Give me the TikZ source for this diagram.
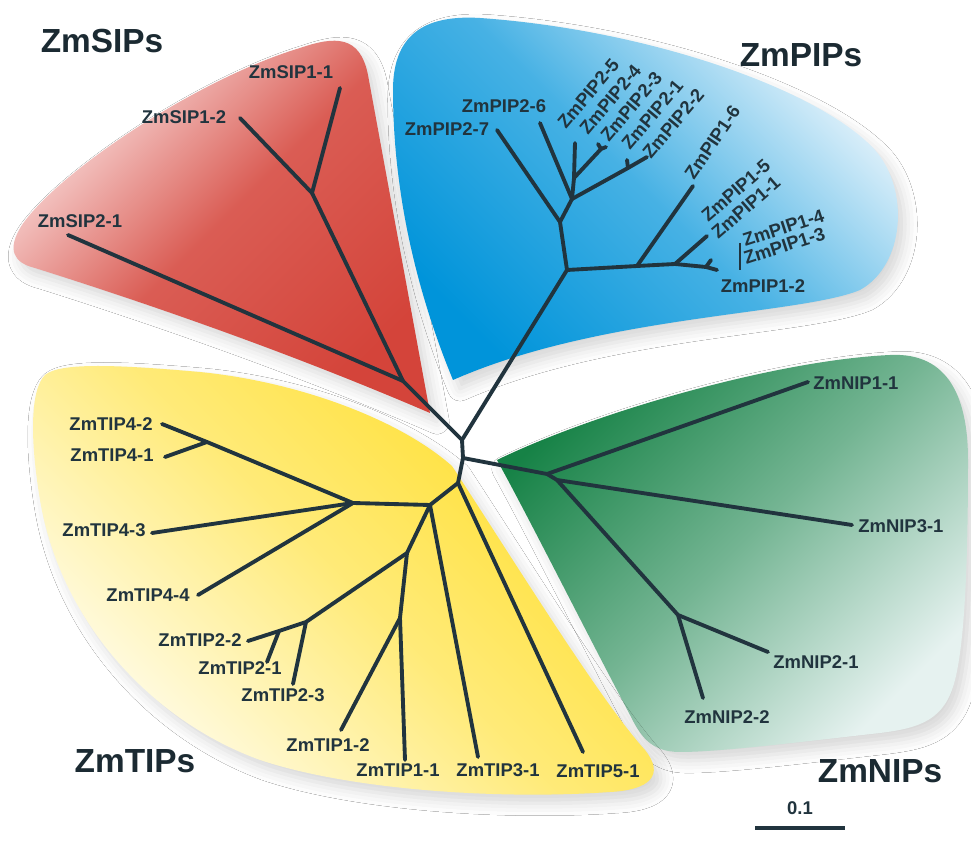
\documentclass[tikz,border=0pt]{standalone}
\usepackage{fontspec}
\setmainfont{Liberation Sans}
\usetikzlibrary{shadows.blur}

\definecolor{branch}{RGB}{33,52,62}
\definecolor{sipdark}{RGB}{212,68,58}
\definecolor{siplight}{RGB}{252,232,232}
\definecolor{pipdark}{RGB}{0,148,218}
\definecolor{piplight}{RGB}{236,246,252}
\definecolor{nipdark}{RGB}{22,130,70}
\definecolor{niplight}{RGB}{230,242,240}
\definecolor{tipdark}{RGB}{255,222,40}
\definecolor{tiplight}{RGB}{255,253,240}

\begin{document}
\begin{tikzpicture}[x=0.02cm, y=-0.02cm,
		leaf/.style={font=\bfseries\fontsize{10.5}{12}\selectfont, text=branch, inner sep=0pt},
		group/.style={font=\bfseries\fontsize{19}{22}\selectfont, text=branch!80!black, inner sep=0pt},
		edge/.style={line width=2.2pt, draw=branch, line cap=round, line join=round},
		blob/.style={blur shadow={shadow xshift=4pt, shadow yshift=-5pt, shadow blur radius=7pt, shadow opacity=16}}]
		\fill[white] (0,0) rectangle (971,857);
		\useasboundingbox (0,0) rectangle (971,857);

		\shade[blob, top color=siplight, bottom color=sipdark, middle color=sipdark!85!siplight, shading angle=45]
			(430,413) -- (368,75) .. controls (360,35) and (335,36) .. (300,48)
			.. controls (200,78) and (60,170) .. (22,225) .. controls (6,250) and (14,263) .. (35,268)
			.. controls (200,320) and (330,370) .. (430,413) -- cycle;
		\shade[blob, top color=piplight, bottom color=pipdark, middle color=pipdark!70!piplight, shading angle=-45]
			(453,380) .. controls (420,300) and (393,200) .. (393,90) .. controls (393,30) and (430,15) .. (480,18)
			.. controls (650,30) and (820,90) .. (875,150) .. controls (910,190) and (905,265) .. (860,290)
			.. controls (800,315) and (600,315) .. (453,380) -- cycle;
		\shade[blob, top color=nipdark, bottom color=niplight, middle color=nipdark!55!niplight, shading angle=45]
			(497,460) .. controls (600,410) and (780,360) .. (890,355) .. controls (950,352) and (968,400) .. (968,460)
			.. controls (968,560) and (965,640) .. (955,680) .. controls (945,720) and (920,728) .. (880,733)
			.. controls (800,742) and (720,752) .. (680,752) .. controls (650,752) and (640,735) .. (630,715)
			.. controls (580,620) and (530,520) .. (497,460) -- cycle;
		\shade[blob, top color=tipdark, bottom color=tiplight, middle color=tipdark!60!tiplight, shading angle=-45]
			(45,375) .. controls (60,362) and (120,365) .. (200,372) .. controls (300,382) and (400,420) .. (452,466)
			.. controls (520,570) and (600,700) .. (645,750) .. controls (665,775) and (650,790) .. (610,792)
			.. controls (500,800) and (350,790) .. (260,760) .. controls (150,720) and (60,620) .. (40,500)
			.. controls (30,440) and (30,390) .. (45,375) -- cycle;

		\coordinate (c0) at (462,440);
		\coordinate (c1) at (463,458);
		\coordinate (c2) at (458,483);

		\coordinate (s1) at (403,381);
		\coordinate (s2) at (312,193);
		\coordinate (sip11) at (340,88);
		\coordinate (sip12) at (240,118);
		\coordinate (sip21) at (68,235);

		\coordinate (p0) at (567,270);
		\coordinate (p1) at (560,222);
		\coordinate (p3) at (572,199);
		\coordinate (p6) at (574,178);
		\coordinate (p4) at (601,149);
		\coordinate (p5) at (628,168);
		\coordinate (p7) at (637,266);
		\coordinate (p8) at (675,264);
		\coordinate (p9) at (706,267);
		\coordinate (pip27) at (497,130);
		\coordinate (pip26) at (540,123);
		\coordinate (pip25) at (575,143);
		\coordinate (pip24) at (598,144);
		\coordinate (pip23) at (606,147);
		\coordinate (pip21) at (627,160);
		\coordinate (pip22) at (647,157);
		\coordinate (pip16) at (693,186);
		\coordinate (pip15) at (707,236);
		\coordinate (pip14) at (711,260);
		\coordinate (pip12) at (717,270);
		\coordinate (brtop) at (740,243);
		\coordinate (brbot) at (740,270);

		\coordinate (n0) at (547,474);
		\coordinate (n1) at (557,480);
		\coordinate (n2) at (678,615);
		\coordinate (nip11) at (808,382);
		\coordinate (nip31) at (852,525);
		\coordinate (nip21) at (768,652);
		\coordinate (nip22) at (703,698);

		\coordinate (t1) at (430,505);
		\coordinate (t4) at (353,503);
		\coordinate (t42) at (207,442);
		\coordinate (t6) at (407,553);
		\coordinate (t2) at (306,622);
		\coordinate (t3) at (279,631);
		\coordinate (t7) at (400,618);
		\coordinate (tip42) at (162,424);
		\coordinate (tip41) at (165,457);
		\coordinate (tip43) at (152,533);
		\coordinate (tip44) at (198,595);
		\coordinate (tip22) at (248,641);
		\coordinate (tip21) at (267,662);
		\coordinate (tip23) at (293,684);
		\coordinate (tip12) at (341,730);
		\coordinate (tip11) at (405,760);
		\coordinate (tip31) at (478,757);
		\coordinate (tip51) at (583,752);

		\draw[edge] (s1) -- (c0) -- (c1) -- (c2);
		\draw[edge] (s1) -- (s2) -- (sip11);
		\draw[edge] (s2) -- (sip12);
		\draw[edge] (s1) -- (sip21);

		\draw[edge] (c0) -- (p0) -- (p1) -- (p3) -- (p6) -- (pip25);
		\draw[edge] (p1) -- (pip27);
		\draw[edge] (p3) -- (pip26);
		\draw[edge] (p6) -- (p4) -- (pip24);
		\draw[edge] (p4) -- (pip23);
		\draw[edge] (p3) -- (p5) -- (pip22);
		\draw[edge] (p5) -- (pip21);
		\draw[edge] (p0) -- (p7) -- (p8) -- (p9) -- (pip12);
		\draw[edge] (p7) -- (pip16);
		\draw[edge] (p8) -- (pip15);
		\draw[edge] (p9) -- (pip14);
		\draw[line width=1.6pt, branch] (brtop) -- (brbot);

		\draw[edge] (c1) -- (n0) -- (nip11);
		\draw[edge] (n0) -- (n1) -- (nip31);
		\draw[edge] (n1) -- (n2) -- (nip21);
		\draw[edge] (n2) -- (nip22);

		\draw[edge] (c2) -- (tip51);
		\draw[edge] (c2) -- (t1) -- (t4) -- (t42) -- (tip42);
		\draw[edge] (t42) -- (tip41);
		\draw[edge] (t4) -- (tip43);
		\draw[edge] (t4) -- (tip44);
		\draw[edge] (t1) -- (tip31);
		\draw[edge] (t1) -- (t6) -- (t2) -- (t3) -- (tip22);
		\draw[edge] (t3) -- (tip21);
		\draw[edge] (t2) -- (tip23);
		\draw[edge] (t6) -- (t7) -- (tip11);
		\draw[edge] (t7) -- (tip12);

		\node[group] (tsip) at (102,41) {ZmSIPs};
		\node[group] (tpip) at (801,55) {ZmPIPs};
		\node[group] (tnip) at (880,771) {ZmNIPs};
		\node[group] (ttip) at (135,761) {ZmTIPs};

		\node[leaf] (lsip11) at (291,72) {ZmSIP1-1};
		\node[leaf] (lsip12) at (184,117) {ZmSIP1-2};
		\node[leaf] (lsip21) at (80,221) {ZmSIP2-1};

		\node[leaf] (lpip27) at (447,129) {ZmPIP2-7};
		\node[leaf] (lpip26) at (504,106) {ZmPIP2-6};
		\node[leaf, rotate=50, anchor=base west] (lpip25) at (566,130) {ZmPIP2-5};
		\node[leaf, rotate=50, anchor=base west] (lpip24) at (588,136) {ZmPIP2-4};
		\node[leaf, rotate=50, anchor=base west] (lpip23) at (609,143) {ZmPIP2-3};
		\node[leaf, rotate=50, anchor=base west] (lpip21) at (630,151) {ZmPIP2-1};
		\node[leaf, rotate=50, anchor=base west] (lpip22) at (651,160) {ZmPIP2-2};
		\node[leaf, rotate=56, anchor=base west] (lpip16) at (694,181) {ZmPIP1-6};
		\node[leaf, rotate=41, anchor=base west] (lpip15) at (708,223) {ZmPIP1-5};
		\node[leaf, rotate=41, anchor=base west] (lpip11) at (718,240) {ZmPIP1-1};
		\node[leaf, rotate=18, anchor=base west] (lpip14) at (745,247) {ZmPIP1-4};
		\node[leaf, rotate=18, anchor=base west] (lpip13) at (746,265) {ZmPIP1-3};
		\node[leaf] (lpip12) at (763,286) {ZmPIP1-2};

		\node[leaf, anchor=west] (lnip11) at (813,383) {ZmNIP1-1};
		\node[leaf, anchor=west] (lnip31) at (858,526) {ZmNIP3-1};
		\node[leaf] (lnip21) at (816,662) {ZmNIP2-1};
		\node[leaf] (lnip22) at (727,717) {ZmNIP2-2};

		\node[leaf] (ltip42) at (111,424) {ZmTIP4-2};
		\node[leaf] (ltip41) at (112,455) {ZmTIP4-1};
		\node[leaf] (ltip43) at (104,530) {ZmTIP4-3};
		\node[leaf] (ltip44) at (148,595) {ZmTIP4-4};
		\node[leaf] (ltip22) at (200,640) {ZmTIP2-2};
		\node[leaf] (ltip21) at (240,668) {ZmTIP2-1};
		\node[leaf] (ltip23) at (283,695) {ZmTIP2-3};
		\node[leaf] (ltip12) at (328,745) {ZmTIP1-2};
		\node[leaf] (ltip11) at (398,770) {ZmTIP1-1};
		\node[leaf] (ltip31) at (498,770) {ZmTIP3-1};
		\node[leaf] (ltip51) at (598,771) {ZmTIP5-1};

		\node[leaf] (lscale) at (800,808) {0.1};
		\coordinate (bar0) at (755,828);
		\coordinate (bar1) at (845,828);
		\draw[line width=2pt, branch] (bar0) -- (bar1);
	\end{tikzpicture}
\end{document}
